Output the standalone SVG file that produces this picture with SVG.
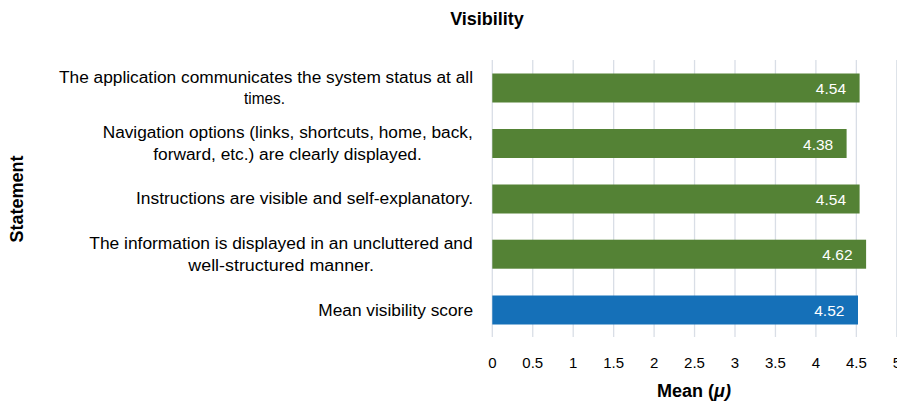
<svg xmlns="http://www.w3.org/2000/svg" width="897" height="405" viewBox="0 0 897 405">
<style>
.grid{stroke:#d9dee6;stroke-width:1.3}
.lbl{font-family:"Liberation Sans",Arial,sans-serif;font-size:16px;fill:#000}
.val{font-family:"Liberation Sans",Arial,sans-serif;font-size:15.5px;fill:#fff;text-anchor:end}
.tick{font-family:"Liberation Sans",Arial,sans-serif;font-size:15px;fill:#000;text-anchor:middle}
.ttl{font-family:"Liberation Sans",Arial,sans-serif;font-size:18px;font-weight:bold;fill:#000;text-anchor:middle}
.g{fill:#548235}
.b{fill:#1570b8}
</style>
<rect width="897" height="405" fill="#fff"/>
<text class="ttl" x="487" y="25">Visibility</text>
<g id="gridlines">
<line class="grid" x1="492.3" y1="60" x2="492.3" y2="337"/>
<line class="grid" x1="532.75" y1="60" x2="532.75" y2="337"/>
<line class="grid" x1="573.2" y1="60" x2="573.2" y2="337"/>
<line class="grid" x1="613.65" y1="60" x2="613.65" y2="337"/>
<line class="grid" x1="654.1" y1="60" x2="654.1" y2="337"/>
<line class="grid" x1="694.55" y1="60" x2="694.55" y2="337"/>
<line class="grid" x1="735" y1="60" x2="735" y2="337"/>
<line class="grid" x1="775.45" y1="60" x2="775.45" y2="337"/>
<line class="grid" x1="815.9" y1="60" x2="815.9" y2="337"/>
<line class="grid" x1="856.35" y1="60" x2="856.35" y2="337"/>
<line class="grid" x1="896.8" y1="60" x2="896.8" y2="337"/>
</g>
<g id="bar1">
<rect class="g" x="492.3" y="73.5" width="367.3" height="29"/>
<text class="val" x="846" y="94.2">4.54</text>
<text class="lbl" x="59" y="82.7" textLength="414" lengthAdjust="spacingAndGlyphs">The application communicates the system status at all</text>
<text class="lbl" x="244" y="104.3" textLength="41" lengthAdjust="spacingAndGlyphs">times.</text>
</g>
<g id="bar2">
<rect class="g" x="492.3" y="129" width="354.3" height="29"/>
<text class="val" x="833.2" y="149.7">4.38</text>
<text class="lbl" x="102.7" y="137.9" textLength="370" lengthAdjust="spacingAndGlyphs">Navigation options (links, shortcuts, home, back,</text>
<text class="lbl" x="153.3" y="160" textLength="268.4" lengthAdjust="spacingAndGlyphs">forward, etc.) are clearly displayed.</text>
</g>
<g id="bar3">
<rect class="g" x="492.3" y="184.5" width="367.3" height="29"/>
<text class="val" x="846" y="205.2">4.54</text>
<text class="lbl" x="136" y="204.4" textLength="337" lengthAdjust="spacingAndGlyphs">Instructions are visible and self-explanatory.</text>
</g>
<g id="bar4">
<rect class="g" x="492.3" y="239.7" width="373.8" height="29"/>
<text class="val" x="852.5" y="260.4">4.62</text>
<text class="lbl" x="89.3" y="248.5" textLength="383.4" lengthAdjust="spacingAndGlyphs">The information is displayed in an uncluttered and</text>
<text class="lbl" x="188.3" y="270.8" textLength="185.7" lengthAdjust="spacingAndGlyphs">well-structured manner.</text>
</g>
<g id="bar5">
<rect class="b" x="492.3" y="295.5" width="365.7" height="29"/>
<text class="val" x="844.4" y="316.2">4.52</text>
<text class="lbl" x="318.3" y="315.8" textLength="154.7" lengthAdjust="spacingAndGlyphs">Mean visibility score</text>
</g>
<g id="x-axis">
<text class="tick" x="492.3" y="367.5">0</text>
<text class="tick" x="532.75" y="367.5">0.5</text>
<text class="tick" x="573.2" y="367.5">1</text>
<text class="tick" x="613.65" y="367.5">1.5</text>
<text class="tick" x="654.1" y="367.5">2</text>
<text class="tick" x="694.55" y="367.5">2.5</text>
<text class="tick" x="735" y="367.5">3</text>
<text class="tick" x="775.45" y="367.5">3.5</text>
<text class="tick" x="815.9" y="367.5">4</text>
<text class="tick" x="856.35" y="367.5">4.5</text>
<text class="tick" x="896.8" y="367.5">5</text>
<text class="ttl" x="694" y="396.7">Mean (<tspan font-style="italic">μ)</tspan></text>
</g>
<text class="ttl" transform="translate(22.5,199) rotate(-90)" x="0" y="0">Statement</text>
</svg>
